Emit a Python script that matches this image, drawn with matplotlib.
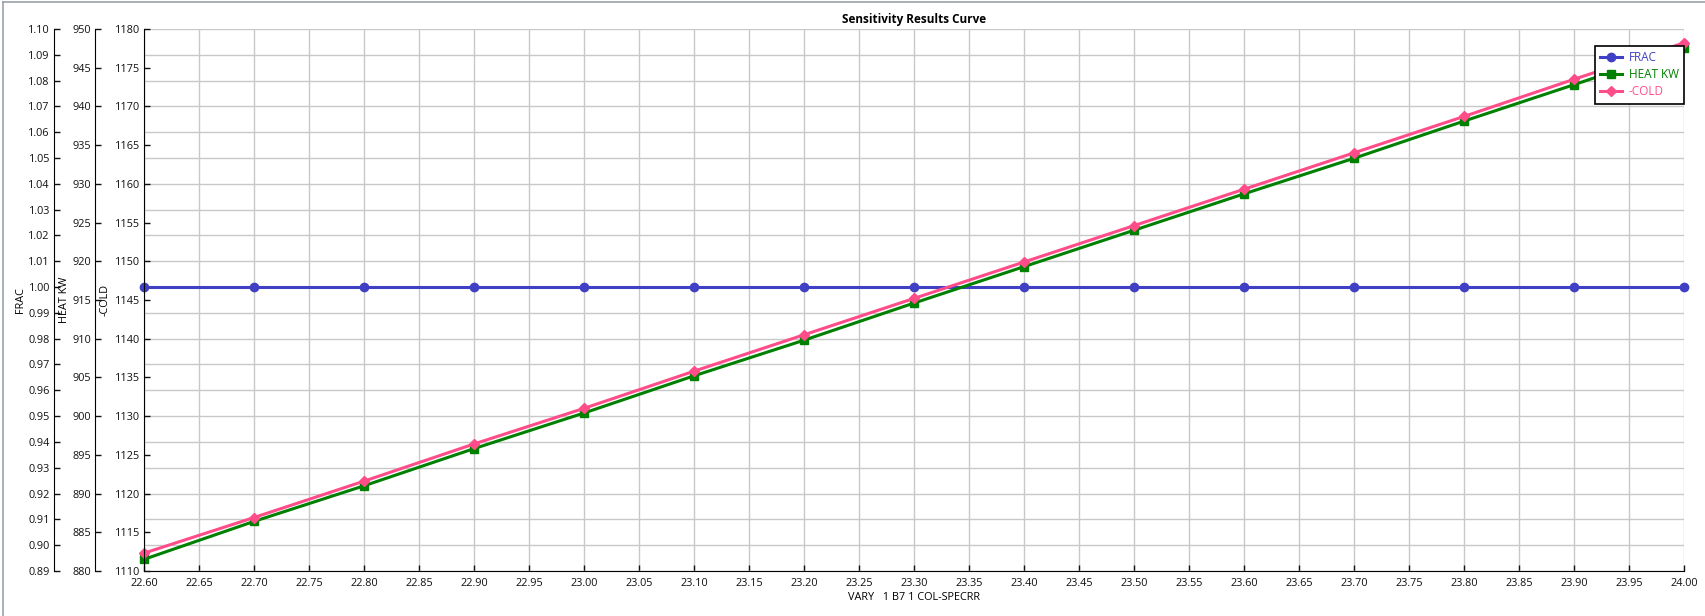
import matplotlib
matplotlib.use("Agg")
import matplotlib.pyplot as plt
from matplotlib.lines import Line2D

plt.rcParams['font.family'] = ['Open Sans', 'DejaVu Sans']

# data
vary = [22.6, 22.7, 22.8, 22.9, 23.0, 23.1, 23.2, 23.3, 23.4, 23.5, 23.6, 23.7, 23.8, 23.9, 24.0]
frac = [1.0, 1.0, 1.0, 1.0, 1.0, 1.0, 1.0, 1.0, 1.0, 1.0, 1.0, 1.0, 1.0, 1.0, 1.0]
heat_kw = [881.5, 886.4, 891.0, 895.8, 900.4, 905.2, 909.8, 914.6, 919.3, 924.0,
           928.7, 933.3, 938.1, 942.8, 947.6]
cold = [1112.3, 1116.9, 1121.6, 1126.4, 1131.0, 1135.8, 1140.5, 1145.2, 1149.9, 1154.6,
        1159.3, 1164.0, 1168.7, 1173.5, 1178.2]

xticks = [round(22.6 + 0.05 * i, 2) for i in range(29)]
frac_ticks = [round(0.89 + 0.01 * i, 2) for i in range(22)]
heat_ticks = list(range(880, 951, 5))
cold_ticks = list(range(1110, 1181, 5))

c_frac = '#4040c4'
c_heat = '#008000'
c_cold = '#ff4d8a'
fs = 7.8

fig = plt.figure(figsize=(17.06, 6.16), dpi=100)
fig.patch.set_facecolor('white')
ax = fig.add_axes([0.0844, 0.0731, 0.9027, 0.8799])

# FRAC axis carries the grid
ax.plot(vary, frac, color=c_frac, lw=2.2, marker='o', ms=6, clip_on=False, label='FRAC', zorder=3)
ax.set_xlim(22.6, 24.0)
ax.set_ylim(0.89, 1.10)
ax.set_xticks(xticks)
ax.set_xticklabels(['%.2f' % t for t in xticks])
ax.set_yticks(frac_ticks)
ax.set_yticklabels(['%.2f' % t for t in frac_ticks])
ax.grid(True, color='#c8c8c8', lw=1)
ax.set_axisbelow(True)
ax.spines['top'].set_visible(False)
ax.spines['right'].set_visible(False)
ax.spines['left'].set_position(('axes', -0.0584))
ax.tick_params(direction='in', length=4, width=1, labelsize=fs, pad=3, colors='#111111')
ax.tick_params(axis='x', pad=5)
ax.set_ylabel('FRAC', fontsize=fs)
ax.yaxis.set_label_coords(-0.0766, 0.5)
ax.set_xlabel('VARY   1 B7 1 COL-SPECRR', fontsize=fs, labelpad=2)
ax.set_title('Sensitivity Results Curve', fontsize=8.5, fontweight='bold', pad=4)

ax_heat = ax.twinx()
ax_cold = ax.twinx()
for a, pos in ((ax_heat, -0.0318), (ax_cold, 0.0)):
    for s in ('top', 'right', 'bottom'):
        a.spines[s].set_visible(False)
    a.spines['left'].set_visible(True)
    a.spines['left'].set_position(('axes', pos))
    a.yaxis.set_ticks_position('left')
    a.yaxis.set_label_position('left')
    a.tick_params(direction='in', length=4, width=1, labelsize=fs, pad=3, colors='#111111')

ax_heat.plot(vary, heat_kw, color=c_heat, lw=2.2, marker='s', ms=5.5, clip_on=False, label='HEAT KW')
ax_heat.set_ylim(880, 950)
ax_heat.set_yticks(heat_ticks)
ax_heat.set_ylabel('HEAT KW', fontsize=fs)
ax_heat.yaxis.set_label_coords(-0.048, 0.5)

ax_cold.plot(vary, cold, color=c_cold, lw=2.2, marker='D', ms=5.5, clip_on=False, label='-COLD')
ax_cold.set_ylim(1110, 1180)
ax_cold.set_yticks(cold_ticks)
ax_cold.set_ylabel('-COLD', fontsize=fs)
ax_cold.yaxis.set_label_coords(-0.022, 0.5)

handles = [ax.lines[0], ax_heat.lines[0], ax_cold.lines[0]]
leg = ax_cold.legend(handles=handles, loc='upper right', bbox_to_anchor=(1.0, 0.969),
                     fontsize=8.5, fancybox=False, framealpha=1, edgecolor='black',
                     handlelength=1.8, handletextpad=0.6, borderpad=0.45,
                     labelspacing=0.35, borderaxespad=0)
leg.get_frame().set_linewidth(1.2)
for txt, col in zip(leg.get_texts(), (c_frac, c_heat, c_cold)):
    txt.set_color(col)

# thin gray window border at left and top
fig.add_artist(Line2D([0.0015, 0.0015], [0, 0.997], color='#9aa2ac', lw=1.2, transform=fig.transFigure))
fig.add_artist(Line2D([0.0015, 1], [0.997, 0.997], color='#9aa2ac', lw=1.2, transform=fig.transFigure))

fig.savefig('out.png', dpi=100)
